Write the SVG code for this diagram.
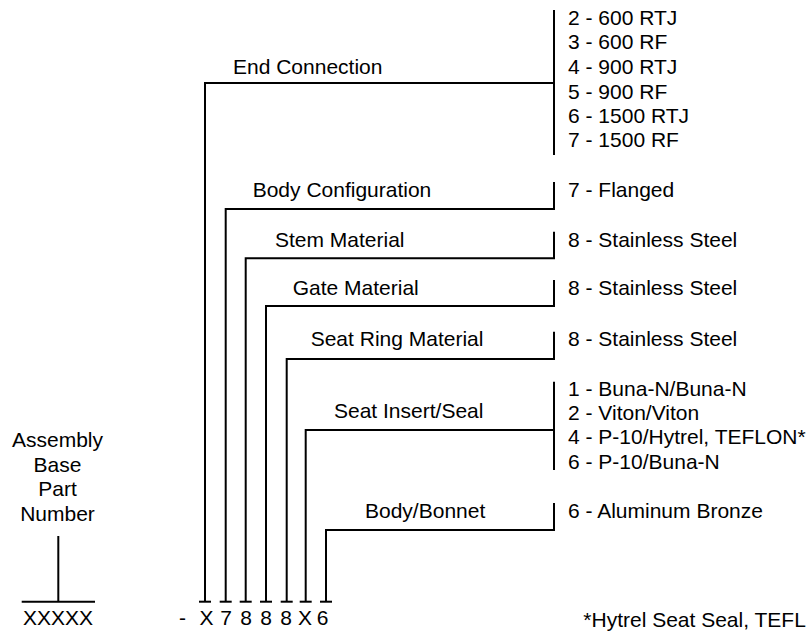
<svg xmlns="http://www.w3.org/2000/svg" width="808" height="632" viewBox="0 0 808 632">
<style>
text{font-family:"Liberation Sans",Arial,sans-serif;font-size:21px;fill:#000}
.m{text-anchor:middle}
line,polyline{stroke:#000;stroke-width:2;fill:none}
</style>
<rect width="808" height="632" fill="#fff"/>
<g id="connectors">
<polyline points="205,601.7 205,83 554,83"/>
<polyline points="225.7,601.7 225.7,209 554,209 554,182"/>
<polyline points="245.7,601.7 245.7,258.3 554,258.3 554,231.7"/>
<polyline points="266,601.7 266,306 554,306 554,280"/>
<polyline points="286.7,601.7 286.7,359 554,359 554,331.7"/>
<polyline points="305.7,601.7 305.7,430 554,430"/>
<polyline points="326,601.7 326,530 554,530 554,503"/>
<line x1="58.3" y1="536" x2="58.3" y2="601.7"/>
</g>
<g id="base">
<text class="m" x="57.5" y="446.5">Assembly</text>
<text class="m" x="57.5" y="471.5">Base</text>
<text class="m" x="57.5" y="496">Part</text>
<text class="m" x="57.5" y="520.5">Number</text>
<line x1="21.7" y1="601.7" x2="95" y2="601.7"/>
<text class="m" x="58" y="625">XXXXX</text>
</g>
<g id="code">
<line x1="199" y1="601.7" x2="211" y2="601.7"/>
<line x1="219.7" y1="601.7" x2="231.7" y2="601.7"/>
<line x1="239.7" y1="601.7" x2="251.7" y2="601.7"/>
<line x1="260" y1="601.7" x2="272" y2="601.7"/>
<line x1="280.7" y1="601.7" x2="292.7" y2="601.7"/>
<line x1="299.7" y1="601.7" x2="311.7" y2="601.7"/>
<line x1="320" y1="601.7" x2="332" y2="601.7"/>
<text class="m" x="182.5" y="625">-</text>
<text class="m" x="206.5" y="625">X</text>
<text class="m" x="226" y="625">7</text>
<text class="m" x="246" y="625">8</text>
<text class="m" x="266" y="625">8</text>
<text class="m" x="286" y="625">8</text>
<text class="m" x="305" y="625">X</text>
<text class="m" x="322.5" y="625">6</text>
</g>
<g id="end-connection">
<text x="233" y="74">End Connection</text>
<line x1="554" y1="10" x2="554" y2="155"/>
<text x="568" y="25.3">2 - 600 RTJ</text>
<text x="568" y="49.3">3 - 600 RF</text>
<text x="568" y="73.7">4 - 900 RTJ</text>
<text x="568" y="98.7">5 - 900 RF</text>
<text x="568" y="122.7">6 - 1500 RTJ</text>
<text x="568" y="147.3">7 - 1500 RF</text>
</g>
<g id="body-configuration">
<text x="252.7" y="197.3">Body Configuration</text>
<text x="568" y="197.3">7 - Flanged</text>
</g>
<g id="stem-material">
<text x="275" y="246.7">Stem Material</text>
<text x="568" y="246.7">8 - Stainless Steel</text>
</g>
<g id="gate-material">
<text x="292.7" y="295">Gate Material</text>
<text x="568" y="295">8 - Stainless Steel</text>
</g>
<g id="seat-ring-material">
<text x="310.7" y="345.7">Seat Ring Material</text>
<text x="568" y="345.7">8 - Stainless Steel</text>
</g>
<g id="seat-insert-seal">
<text x="334" y="418">Seat Insert/Seal</text>
<line x1="554" y1="381.7" x2="554" y2="470"/>
<text x="568" y="396">1 - Buna-N/Buna-N</text>
<text x="568" y="420">2 - Viton/Viton</text>
<text x="568" y="444">4 - P-10/Hytrel, TEFLON*</text>
<text x="568" y="468.7">6 - P-10/Buna-N</text>
</g>
<g id="body-bonnet">
<text x="365" y="518">Body/Bonnet</text>
<text x="568" y="518">6 - Aluminum Bronze</text>
</g>
<g id="footnote">
<text x="583.3" y="627.3">*Hytrel Seat Seal, TEFL</text>
</g>
</svg>
